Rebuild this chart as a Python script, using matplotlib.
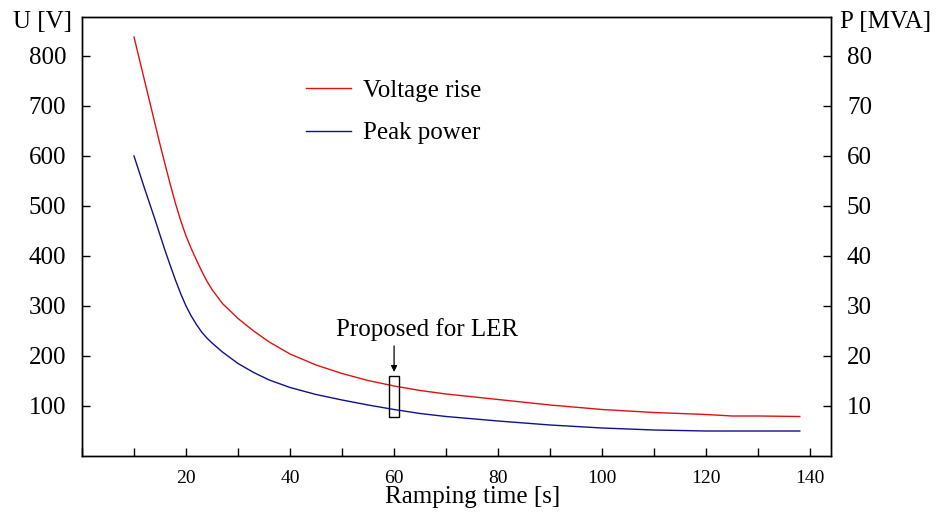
import matplotlib
matplotlib.use("Agg")
import matplotlib.pyplot as plt
from matplotlib.patches import Rectangle
from matplotlib.ticker import MultipleLocator, FixedLocator

plt.rcParams['font.family'] = ['Liberation Serif', 'DejaVu Serif']

# Data
ramp_time = [10, 11, 12, 13, 14, 15, 16, 17, 18, 19, 20, 21, 22, 23, 24, 25, 27, 30, 33, 36,
             40, 45, 50, 55, 60, 65, 70, 80, 90, 100, 110, 120, 125, 130, 138]
voltage_rise = [838, 795, 752, 709, 666, 623, 582, 542, 504, 470, 440, 415, 392, 370, 350, 333, 305, 275, 250, 228,
                204, 182, 165, 151, 140, 131, 124, 113, 102, 93, 87, 83, 80, 80, 79]  # V
peak_power = [60.0, 56.8, 53.6, 50.5, 47.4, 44.2, 41.0, 38.0, 35.1, 32.4, 30.0, 28.0, 26.3, 24.8, 23.6, 22.6, 20.8, 18.5, 16.7, 15.2,
              13.7, 12.3, 11.2, 10.2, 9.3, 8.5, 7.9, 7.0, 6.2, 5.6, 5.2, 5.0, 5.0, 5.0, 5.0]  # MVA

x_ticks = [20, 40, 60, 80, 100, 120, 140]
u_ticks = [100, 200, 300, 400, 500, 600, 700, 800]
p_ticks = [10, 20, 30, 40, 50, 60, 70, 80]

proposed_time = 60
proposed_box_u = (78, 160)
proposed_label = "Proposed for LER"

W, H = 937, 513
fig = plt.figure(figsize=(W / 100, H / 100), dpi=100)
ax = fig.add_axes([82 / W, 1 - 456 / H, (831 - 82) / W, (456 - 17) / H])
ax2 = ax.twinx()

red = '#e01010'
blue = '#10108a'
l1, = ax.plot(ramp_time, voltage_rise, color=red, lw=1.0, label='Voltage rise')
l2, = ax2.plot(ramp_time, peak_power, color=blue, lw=1.0, label='Peak power')

ax.set_xlim(0, 144)
ax.set_ylim(0, 878)
ax2.set_ylim(0, 87.8)

ax.xaxis.set_major_locator(FixedLocator(x_ticks))
ax.xaxis.set_minor_locator(MultipleLocator(10))
ax.yaxis.set_major_locator(FixedLocator(u_ticks))
ax2.yaxis.set_major_locator(FixedLocator(p_ticks))

for a in (ax, ax2):
    for s in a.spines.values():
        s.set_linewidth(1.0)
        s.set_color('black')
ax.tick_params(axis='x', which='both', direction='in', length=6, width=1, pad=10, labelsize=14)
ax.tick_params(axis='y', which='both', direction='in', length=6, width=1, pad=11.5, labelsize=18)
ax2.tick_params(axis='y', which='both', direction='in', length=6, width=1, pad=11.5, labelsize=18)

# Proposed region box and arrow
bw = 1.0
ax.add_patch(Rectangle((proposed_time - bw, proposed_box_u[0]), 2 * bw,
                       proposed_box_u[1] - proposed_box_u[0],
                       fill=False, edgecolor='black', lw=1.0, zorder=5))
ax.annotate('', xy=(proposed_time, proposed_box_u[1] + 8), xytext=(proposed_time, 220),
            arrowprops=dict(arrowstyle='-|>', color='black', lw=0.9,
                            mutation_scale=9, shrinkA=0, shrinkB=0))
ax.text(66.3, 252, proposed_label, ha='center', va='center', fontsize=18)

leg = ax.legend(handles=[l1, l2], loc='upper left', bbox_to_anchor=(294 / W, 1 - 67 / H),
                bbox_transform=fig.transFigure, frameon=False, fontsize=18,
                handlelength=1.8, handletextpad=0.45, labelspacing=0.8, borderpad=0)

fig.text(13 / W, 1 - 22 / H, 'U [V]', ha='left', va='center', fontsize=18)
fig.text(840 / W, 1 - 22 / H, 'P [MVA]', ha='left', va='center', fontsize=18)
fig.text(473 / W, 1 - 497 / H, 'Ramping time [s]', ha='center', va='center', fontsize=18)

fig.savefig('out.png', dpi=100)
